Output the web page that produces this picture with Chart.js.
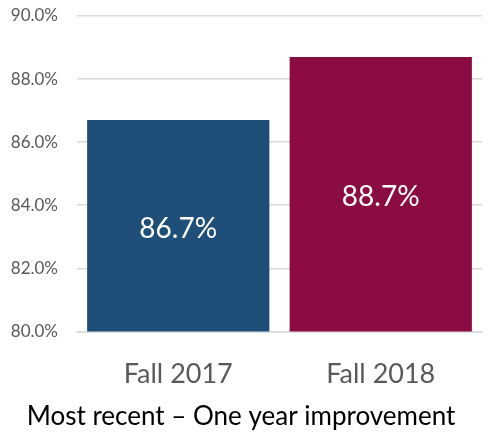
<!DOCTYPE html>
<html>
<head>
<meta charset="utf-8">
<script src="https://cdn.jsdelivr.net/npm/chart.js@4/dist/chart.umd.min.js"></script>
<style>
  html, body { margin: 0; padding: 0; background: #fff; }
  #wrap { width: 498px; height: 432px; position: relative; }
</style>
</head>
<body>
<div id="wrap"><canvas id="barChart"></canvas></div>
<script>
const categories = ["Fall 2017", "Fall 2018"];
const rates = [86.7, 88.7];
const barColors = ["#1f4e79", "#8b0c42"];
const yTicks = [80, 82, 84, 86, 88, 90];

Chart.defaults.font.family = "Lato, 'Open Sans', sans-serif";

// white value label in the middle of each bar
const valueLabels = {
  id: "valueLabels",
  afterDraw(chart) {
    const ctx = chart.ctx;
    const yScale = chart.scales.y;
    const meta = chart.getDatasetMeta(0);
    ctx.save();
    ctx.fillStyle = "#ffffff";
    ctx.font = "28px Lato, sans-serif";
    ctx.textAlign = "center";
    ctx.textBaseline = "middle";
    meta.data.forEach((bar, i) => {
      const top = yScale.getPixelForValue(rates[i]);
      const bottom = yScale.getPixelForValue(yScale.min);
      ctx.fillText(rates[i].toFixed(1) + "%", bar.x, (top + bottom) / 2 + 3);
    });
    ctx.restore();
  },
};

new Chart(document.getElementById("barChart"), {
  type: "bar",
  data: {
    labels: categories,
    datasets: [
      {
        data: rates,
        backgroundColor: barColors,
        barPercentage: 0.9,
        categoryPercentage: 1,
      },
    ],
  },
  options: {
    responsive: true,
    maintainAspectRatio: false,
    animation: false,
    layout: { padding: { top: 16, right: 16, left: 0, bottom: 0 } },
    scales: {
      y: {
        min: 80,
        max: 90,
        afterBuildTicks: (axis) => {
          axis.ticks = yTicks.map((v) => ({ value: v }));
        },
        afterFit: (axis) => {
          axis.width = 77;
          axis.paddingTop = 0;
          axis.paddingBottom = 0;
        },
        ticks: {
          color: "#595959",
          font: { size: 17 },
          padding: 19,
          callback: (v) => v.toFixed(1) + "%",
        },
        grid: { color: "#d9d9d9", lineWidth: 1.5, drawTicks: false },
        border: { display: false },
      },
      x: {
        afterFit: (axis) => {
          axis.height -= 6;
        },
        ticks: { color: "#595959", font: { size: 27 }, padding: 19 },
        grid: { display: false },
        border: { color: "#d9d9d9", width: 1.5 },
      },
    },
    plugins: {
      legend: { display: false },
      tooltip: { enabled: false },
      title: {
        display: true,
        position: "bottom",
        text: "Most recent \u2013 One year improvement",
        color: "#000000",
        font: { size: 26, weight: "normal" },
        padding: { top: -3, bottom: 0 },
      },
    },
  },
  plugins: [valueLabels],
});
</script>
</body>
</html>
